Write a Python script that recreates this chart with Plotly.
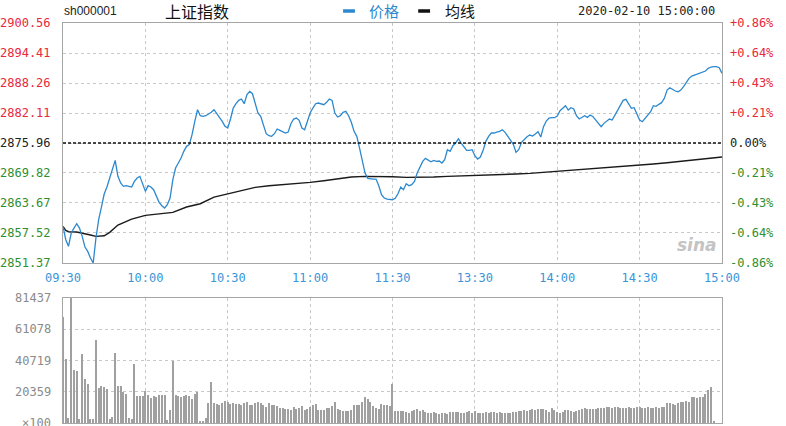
import plotly.graph_objects as go

# ---------------- data ----------------
code_label = "sh000001"
name_label = "上证指数"
date_label = "2020-02-10 15:00:00"
prev_close = 2875.96

time_ticks = [0, 30, 60, 90, 120, 150, 180, 210, 240]
time_labels = ['09:30', '10:00', '10:30', '11:00', '11:30', '13:30', '14:00', '14:30', '15:00']

price_ticks = [2851.37, 2857.52, 2863.67, 2869.82, 2875.96, 2882.11, 2888.26, 2894.41, 2900.56]
price_tick_labels = ['2851.37', '2857.52', '2863.67', '2869.82', '2875.96', '2882.11', '2888.26', '2894.41', '2900.56']
pct_labels = ['-0.86%', '-0.64%', '-0.43%', '-0.21%', '0.00%', '+0.21%', '+0.43%', '+0.64%', '+0.86%']

vol_ticks = [0, 20359, 40719, 61078, 81437]
vol_tick_labels = ['×100', '20359', '40719', '61078', '81437']

# minute-by-minute price (09:30 .. 11:30, 13:01 .. 15:00)
price = [
    2858.88, 2856.14, 2854.78, 2857.51, 2858.53, 2859.43, 2858.53, 2856.83, 2854.64, 2853.75,
    2852.39, 2851.37, 2856.50, 2860.30, 2862.80, 2865.50, 2866.94, 2868.79, 2871.04, 2872.41,
    2869.13, 2867.76, 2867.08, 2867.21, 2867.08, 2866.94, 2868.10, 2868.79, 2869.13, 2867.76,
    2866.05, 2867.21, 2866.94, 2866.39, 2865.03, 2863.80, 2863.12, 2862.64, 2863.32, 2864.69,
    2868.44, 2870.84, 2871.86, 2872.89, 2874.25, 2875.28, 2875.62, 2877.67, 2880.40, 2882.79,
    2881.56, 2881.43, 2881.56, 2881.90, 2882.25, 2882.79, 2881.97, 2881.29, 2880.40, 2879.38,
    2879.03, 2880.88, 2883.13, 2884.02, 2884.71, 2884.98, 2884.02, 2885.87, 2886.55, 2886.07,
    2883.82, 2882.11, 2881.43, 2879.38, 2877.87, 2877.46, 2877.33, 2877.87, 2878.83, 2878.56,
    2878.35, 2877.99, 2878.20, 2879.90, 2880.88, 2881.08, 2880.61, 2879.03, 2878.69, 2880.20,
    2882.11, 2883.13, 2884.02, 2884.16, 2884.02, 2883.82, 2884.30, 2884.98, 2884.71, 2882.11,
    2881.29, 2881.56, 2882.25, 2882.45, 2881.56, 2880.20, 2878.35, 2877.33, 2874.93, 2872.54,
    2869.81, 2868.72, 2868.58, 2868.58, 2868.58, 2867.21, 2865.37, 2864.69, 2864.48, 2864.48,
    2864.34, 2864.62, 2865.57, 2866.94, 2866.39, 2867.62, 2867.21, 2867.42, 2868.10, 2869.81,
    2871.18, 2872.20, 2872.82, 2872.54, 2872.13, 2872.41, 2872.20, 2872.27, 2871.86, 2872.54,
    2874.59, 2874.25, 2875.41, 2875.96, 2876.85, 2875.96, 2875.28, 2874.46, 2874.46, 2874.59,
    2873.36, 2872.68, 2873.09, 2874.46, 2876.30, 2877.33, 2878.01, 2878.01, 2878.21, 2878.35,
    2878.69, 2878.15, 2877.33, 2876.57, 2875.69, 2874.05, 2874.66, 2876.10, 2876.78, 2877.26,
    2877.60, 2877.39, 2877.80, 2878.28, 2877.19, 2879.31, 2880.47, 2881.08, 2881.15, 2881.15,
    2881.49, 2882.59, 2883.07, 2883.61, 2882.72, 2883.20, 2882.93, 2881.56, 2880.88, 2881.15,
    2881.56, 2881.22, 2881.70, 2881.36, 2880.67, 2879.99, 2879.31, 2879.99, 2880.47, 2880.88,
    2880.67, 2881.70, 2882.72, 2883.95, 2884.71, 2884.91, 2884.02, 2883.07, 2883.20, 2881.84,
    2880.67, 2880.33, 2881.02, 2881.63, 2882.38, 2883.61, 2883.48, 2883.89, 2884.23, 2885.12,
    2886.82, 2887.30, 2886.89, 2886.62, 2886.48, 2886.82, 2887.51, 2888.40, 2889.22, 2889.69,
    2889.90, 2890.10, 2890.31, 2890.45, 2890.72, 2891.27, 2891.54, 2891.61, 2891.61, 2891.40,
    2890.24,
]

# average price line, read at these minutes
avg_minutes = [0, 1, 2, 5, 10, 12, 15, 17, 20, 25, 30, 35, 40, 45, 50, 55, 60, 65, 70, 75, 80,
               85, 90, 95, 100, 105, 110, 115, 120, 125, 130, 135, 140, 145, 150, 155, 160,
               165, 170, 175, 180, 185, 190, 195, 200, 205, 210, 215, 220, 225, 230, 235, 240]
avg_values = [2858.88, 2858.06, 2857.78, 2857.72, 2857.10, 2856.83, 2856.96, 2857.65, 2859.15,
              2860.38, 2861.13, 2861.47, 2861.75, 2862.84, 2863.52, 2864.89, 2865.51, 2866.19,
              2866.87, 2867.21, 2867.42, 2867.69, 2867.90, 2868.24, 2868.58, 2868.99, 2869.13,
              2869.13, 2869.06, 2868.92, 2868.92, 2868.99, 2869.13, 2869.20, 2869.33, 2869.47,
              2869.54, 2869.61, 2869.74, 2869.95, 2870.08, 2870.29, 2870.49, 2870.70, 2870.90,
              2871.11, 2871.38, 2871.66, 2871.93, 2872.20, 2872.48, 2872.75, 2873.09]

# minute volume (x100 shares)
volume = [
    68800, 41900, 3300, 81437, 34500, 33700, 2800, 45000, 28700, 25400,
    2800, 2800, 54300, 22800, 23900, 23200, 22000, 2800, 3700, 45800,
    23900, 23900, 20000, 19000, 3300, 2400, 38700, 17800, 17400, 17400,
    20600, 18000, 16300, 17400, 16700, 18400, 18400, 18000, 2200, 8700,
    40600, 18400, 17800, 16700, 17400, 18000, 17400, 15800, 18900, 20000,
    1000, 1500, 3300, 13000, 26500, 13000, 12400, 11900, 13000, 14100,
    13700, 12400, 13000, 12400, 12400, 11900, 13000, 13500, 11900, 11900,
    13000, 13700, 13000, 11900, 10200, 13000, 11900, 11500, 10900, 9800,
    9800, 9300, 9100, 8700, 10200, 9300, 9800, 10900, 8700, 9100,
    10400, 12000, 12600, 8700, 8700, 8700, 9800, 9800, 10900, 13500,
    9100, 8700, 8000, 7600, 7600, 8200, 12000, 11500, 12000, 13700,
    16700, 15600, 13700, 10900, 9800, 9300, 12400, 12000, 11500, 11300,
    25400,
    8000, 8000, 8000, 7600, 7200, 6700, 7800, 8500, 8900, 8000,
    8500, 7400, 6700, 6300, 7200, 6300, 5900, 6300, 6300, 5900,
    7400, 6900, 6900, 7400, 6700, 6300, 7200, 7800, 6700, 8000,
    6700, 6700, 6700, 7400, 6700, 7400, 6900, 6700, 6900, 6300,
    6300, 6700, 6700, 6900, 6900, 7800, 7800, 8500, 8000, 8500,
    8900, 8500, 8900, 8900, 8900, 8500, 7400, 9500, 8500, 7400,
    6700, 7400, 8500, 8500, 8000, 7400, 7800, 8500, 8900, 9500,
    8900, 9100, 9300, 8900, 10000, 10000, 10000, 10200, 10600, 10000,
    10600, 10200, 10000, 10000, 10000, 10200, 9500, 10000, 10600, 10200,
    10000, 10000, 10200, 9500, 10000, 10600, 10000, 10200, 10600, 13200,
    12800, 12200, 11700, 13200, 13400, 13900, 14100, 13700, 17100, 16700,
    16500, 16700, 17100, 18900, 21500, 23700, 1300, 0, 0, 0,
]

minutes = list(range(len(price)))
vol_minutes = list(range(len(volume)))

# ---------------- styling ----------------
MONO = "DejaVu Sans Mono"
CJK = "Noto Sans CJK SC"
RED = "#e8283c"
GREEN = "#2f8f2f"
BLUE_TXT = "#3b95d8"
LINE_BLUE = "#2c88cf"
FRAME = "#a6a6a6"
GRID = "#c9c9c9"

fig = go.Figure()
fig.add_trace(go.Bar(x=vol_minutes, y=volume, xaxis="x2", yaxis="y2",
                     marker=dict(color="#a0a0a0", line=dict(width=0)), width=0.42,
                     hoverinfo="skip"))
fig.add_trace(go.Scatter(x=avg_minutes, y=avg_values, mode="lines",
                         line=dict(color="#1a1a1a", width=1.4), hoverinfo="skip"))
fig.add_trace(go.Scatter(x=minutes, y=price, mode="lines",
                         line=dict(color=LINE_BLUE, width=1.3), hoverinfo="skip"))

axis_common = dict(showline=True, mirror=True, linecolor=FRAME, linewidth=1,
                   showgrid=True, gridcolor=GRID, griddash="dot", gridwidth=1,
                   zeroline=False, ticks="", fixedrange=True)

fig.update_layout(
    width=786, height=426, autosize=False,
    margin=dict(l=63, r=64, t=23, b=3),
    paper_bgcolor="white", plot_bgcolor="white",
    showlegend=False, bargap=0,
    xaxis=dict(domain=[0, 1], range=[0, 240], tickvals=time_ticks, ticktext=time_labels,
               tickfont=dict(family=MONO, size=12, color=BLUE_TXT), anchor="y",
               ticklabelstandoff=4, **axis_common),
    yaxis=dict(domain=[0.4, 1], range=[price_ticks[0], price_ticks[-1]], tickvals=price_ticks,
               showticklabels=False, anchor="x", **axis_common),
    xaxis2=dict(domain=[0, 1], range=[0, 240], tickvals=time_ticks, showticklabels=False,
                anchor="y2", **axis_common),
    yaxis2=dict(domain=[0, 0.3125], range=[0, vol_ticks[-1]], tickvals=vol_ticks,
                showticklabels=False, anchor="x2", **axis_common),
)

# previous close dashed line
fig.add_shape(type="line", xref="x", yref="y", x0=0, x1=240, y0=prev_close, y1=prev_close,
              line=dict(color="#111111", width=1.3, dash="3px,2px"))

# left & right price labels
for v, lab, pl in zip(price_ticks, price_tick_labels, pct_labels):
    col = RED if v > prev_close else (GREEN if v < prev_close else "#222222")
    fig.add_annotation(xref="paper", yref="y", x=-0.0155, y=v, text=lab, showarrow=False,
                       xanchor="right", yanchor="middle",
                       font=dict(family=MONO, size=12, color=col))
    fig.add_annotation(xref="paper", yref="y", x=1.0095, y=v, text=pl, showarrow=False,
                       xanchor="left", yanchor="middle",
                       font=dict(family=MONO, size=12, color=col))

# volume labels
for v, lab in zip(vol_ticks, vol_tick_labels):
    fig.add_annotation(xref="paper", yref="y2", x=-0.0155, y=v, text=lab, showarrow=False,
                       xanchor="right", yanchor="middle",
                       font=dict(family=MONO, size=12, color="#8a8a8a"))

# header
fig.add_annotation(xref="paper", yref="paper", x=-0.002, y=1.03, text=code_label,
                   showarrow=False, xanchor="left", yanchor="middle",
                   font=dict(family="Liberation Sans", size=12, color="#222222"))
fig.add_annotation(xref="paper", yref="paper", x=0.151, y=1.03, text=name_label,
                   showarrow=False, xanchor="left", yanchor="middle",
                   font=dict(family=CJK, size=16, color="#111111"))
fig.add_shape(type="line", xref="paper", yref="paper", x0=0.425, x1=0.443, y0=1.03, y1=1.03,
              line=dict(color=LINE_BLUE, width=3.5))
fig.add_annotation(xref="paper", yref="paper", x=0.462, y=1.03, text="价格",
                   showarrow=False, xanchor="left", yanchor="middle",
                   font=dict(family=CJK, size=15, color=LINE_BLUE))
fig.add_shape(type="line", xref="paper", yref="paper", x0=0.539, x1=0.557, y0=1.03, y1=1.03,
              line=dict(color="#111111", width=3.5))
fig.add_annotation(xref="paper", yref="paper", x=0.576, y=1.03, text="均线",
                   showarrow=False, xanchor="left", yanchor="middle",
                   font=dict(family=CJK, size=15, color="#111111"))
fig.add_annotation(xref="paper", yref="paper", x=0.993, y=1.03, text=date_label,
                   showarrow=False, xanchor="right", yanchor="middle",
                   font=dict(family=MONO, size=12, color="#222222"))

# watermark
fig.add_annotation(xref="paper", yref="paper", x=0.995, y=0.445, text="<b><i>sina</i></b>",
                   showarrow=False, xanchor="right", yanchor="middle",
                   font=dict(family="DejaVu Sans", size=17, color="#c4c4c4"))

fig.write_html("out.html", config={"displayModeBar": False},
               post_script="document.body.style.margin='0';document.body.style.overflow='hidden';")
